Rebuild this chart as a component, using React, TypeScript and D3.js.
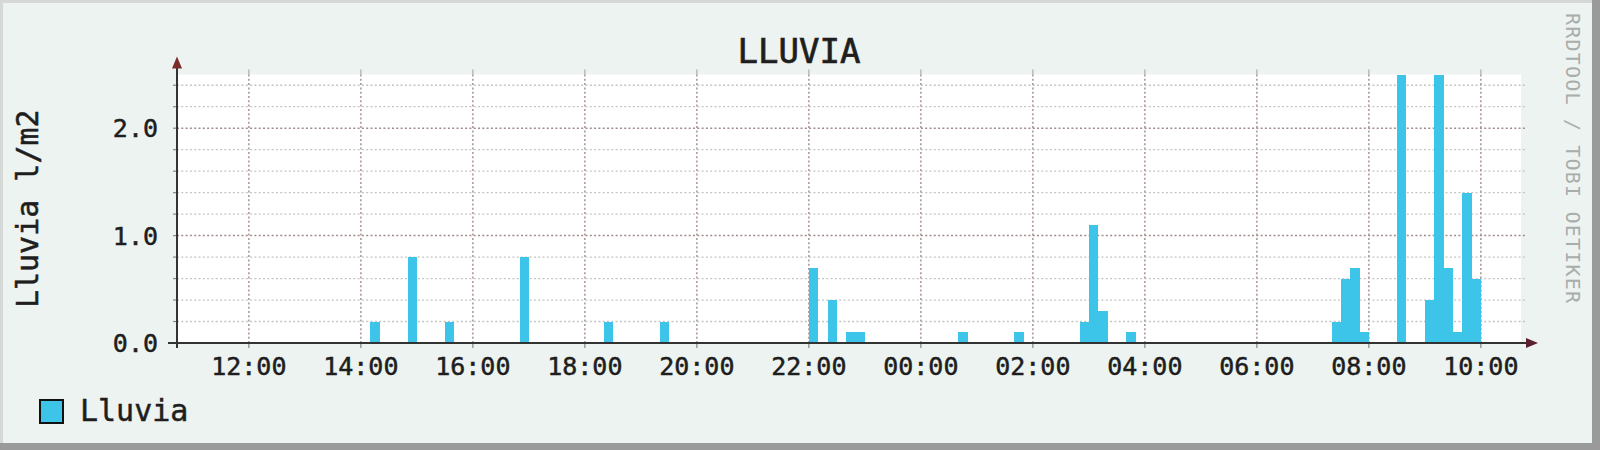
import { useEffect, useRef } from "react"
import * as d3 from "d3"

// time window shown on the x axis (24 h)
const windowStart = "2024-03-10 10:43"
const windowEnd = "2024-03-11 10:43"
const stepMinutes = 10

// start of each 10 minute bucket with rain
const rainTimes = [
  "2024-03-10 14:10", "2024-03-10 14:50", "2024-03-10 15:30", "2024-03-10 16:50",
  "2024-03-10 18:20", "2024-03-10 19:20", "2024-03-10 22:00", "2024-03-10 22:20",
  "2024-03-10 22:40", "2024-03-10 22:50", "2024-03-11 00:40", "2024-03-11 01:40",
  "2024-03-11 02:50", "2024-03-11 03:00", "2024-03-11 03:10", "2024-03-11 03:40",
  "2024-03-11 07:20", "2024-03-11 07:30", "2024-03-11 07:40", "2024-03-11 07:50",
  "2024-03-11 08:30", "2024-03-11 09:00", "2024-03-11 09:10", "2024-03-11 09:20",
  "2024-03-11 09:30", "2024-03-11 09:40", "2024-03-11 09:50",
]
const rainValues = [
  0.2, 0.8, 0.2, 0.8,
  0.2, 0.2, 0.7, 0.4,
  0.1, 0.1, 0.1, 0.1,
  0.2, 1.1, 0.3, 0.1,
  0.2, 0.6, 0.7, 0.1,
  2.5, 0.4, 2.5, 0.7,
  0.1, 1.4, 0.6,
]

const yMax = 2.5
const yLabelTicks = [0, 1, 2]
const title = "LLUVIA"
const yAxisTitle = "Lluvia l/m2"
const legendLabel = "Lluvia"
const watermark = "RRDTOOL / TOBI OETIKER"

const W = 1600
const H = 450
const FONT = "'DejaVu Sans Mono', monospace"
const INK = "#1e1e1e"

export default function App() {
  const svgRef = useRef<SVGSVGElement>(null)

  useEffect(() => {
    if (!svgRef.current) return
    const svg = d3.select(svgRef.current)
    svg.selectAll("*").remove()

    const parse = d3.timeParse("%Y-%m-%d %H:%M")
    const data = rainTimes.map((t, i) => ({ date: parse(t) as Date, value: rainValues[i] }))

    const left = 177
    const right = 1521
    const top = 74.5
    const bottom = 343

    const x = d3.scaleTime().domain([parse(windowStart) as Date, parse(windowEnd) as Date]).range([left, right])
    const y = d3.scaleLinear().domain([0, yMax]).range([bottom, top])

    // frame + canvas
    svg.append("rect").attr("width", W).attr("height", H).attr("fill", "#9a9a9a")
    svg.append("rect").attr("width", W - 8).attr("height", H - 7).attr("fill", "#d6d8d7")
    svg.append("rect").attr("x", 3).attr("y", 3).attr("width", W - 11).attr("height", H - 10).attr("fill", "#edf3f0")

    // plot area
    svg.append("rect")
      .attr("x", left).attr("y", top)
      .attr("width", right - left).attr("height", bottom - top)
      .attr("fill", "#ffffff")

    // minor horizontal grid every 0.2
    const minor = d3.range(1, 13).map((i) => i * 0.2).filter((v) => Math.abs(v - Math.round(v)) > 1e-6)
    svg.append("g").selectAll("line").data(minor).join("line")
      .attr("x1", left).attr("x2", right + 4)
      .attr("y1", (d) => y(d)).attr("y2", (d) => y(d))
      .attr("stroke", "#c4c4c4").attr("stroke-width", 1.3)
      .attr("stroke-dasharray", "2,2.3")

    // major horizontal grid
    svg.append("g").selectAll("line").data([1, 2]).join("line")
      .attr("x1", left).attr("x2", right + 4)
      .attr("y1", (d) => y(d)).attr("y2", (d) => y(d))
      .attr("stroke", "#a08c8c").attr("stroke-width", 1.5)
      .attr("stroke-dasharray", "2,2.3")

    // left tick marks for y grid
    const allY = [...minor, 1, 2]
    svg.append("g").selectAll("line").data(allY).join("line")
      .attr("x1", left - 4).attr("x2", left)
      .attr("y1", (d) => y(d)).attr("y2", (d) => y(d))
      .attr("stroke", "#888").attr("stroke-width", 1.2)

    // vertical major grid every 2h
    const xTicks = x.ticks(d3.timeHour.every(2) as d3.TimeInterval)
    svg.append("g").selectAll("line").data(xTicks).join("line")
      .attr("x1", (d) => x(d)).attr("x2", (d) => x(d))
      .attr("y1", top).attr("y2", bottom)
      .attr("stroke", "#a89292").attr("stroke-width", 1.5)
      .attr("stroke-dasharray", "2,2.3")
    svg.append("g").selectAll("line").data(xTicks).join("line")
      .attr("x1", (d) => x(d)).attr("x2", (d) => x(d))
      .attr("y1", bottom).attr("y2", bottom + 5)
      .attr("stroke", "#888").attr("stroke-width", 1.2)
    svg.append("g").selectAll("line").data(xTicks).join("line")
      .attr("x1", (d) => x(d)).attr("x2", (d) => x(d))
      .attr("y1", top - 5).attr("y2", top)
      .attr("stroke", "#aaa").attr("stroke-width", 1.2)

    // bars
    svg.append("g").selectAll("rect").data(data).join("rect")
      .attr("x", (d) => x(d.date))
      .attr("width", (d) => x(d3.timeMinute.offset(d.date, stepMinutes)) - x(d.date))
      .attr("y", (d) => y(d.value))
      .attr("height", (d) => y(0) - y(d.value))
      .attr("fill", "#3cc4e9")
      .attr("shape-rendering", "crispEdges")

    // axes
    svg.append("line").attr("x1", left - 9).attr("x2", right + 8)
      .attr("y1", bottom).attr("y2", bottom)
      .attr("stroke", "#333").attr("stroke-width", 2)
    svg.append("line").attr("x1", left).attr("x2", left)
      .attr("y1", bottom + 5).attr("y2", top - 8)
      .attr("stroke", "#333").attr("stroke-width", 2)
    // arrows
    svg.append("path")
      .attr("d", `M${left - 5},${top - 6}L${left + 5},${top - 6}L${left},${top - 18}Z`)
      .attr("fill", "#7a2a2a")
    svg.append("path")
      .attr("d", `M${right + 5},${bottom - 5}L${right + 5},${bottom + 5}L${right + 17},${bottom}Z`)
      .attr("fill", "#5a2030")

    const ink = (sel: d3.Selection<any, any, any, any>, w: number) =>
      sel.attr("fill", INK).attr("stroke", INK).attr("stroke-width", w)

    // y tick labels
    ink(svg.append("g").selectAll("text").data(yLabelTicks).join("text")
      .attr("x", 158).attr("y", (d) => y(d))
      .attr("dy", "0.36em")
      .attr("text-anchor", "end")
      .attr("font-family", FONT).attr("font-size", 25)
      .text((d) => d3.format(".1f")(d)), 0.5)

    // x tick labels
    ink(svg.append("g").selectAll("text").data(xTicks).join("text")
      .attr("x", (d) => x(d)).attr("y", 375)
      .attr("text-anchor", "middle")
      .attr("font-family", FONT).attr("font-size", 25)
      .text((d) => d3.timeFormat("%H:%M")(d)), 0.5)

    // title
    ink(svg.append("text")
      .attr("x", 799).attr("y", 63)
      .attr("text-anchor", "middle")
      .attr("font-family", FONT).attr("font-size", 34)
      .text(title), 0.7)

    // y axis title
    ink(svg.append("text")
      .attr("transform", `translate(38,${(top + bottom) / 2}) rotate(-90)`)
      .attr("text-anchor", "middle")
      .attr("font-family", FONT).attr("font-size", 30)
      .text(yAxisTitle), 0.5)

    // watermark
    svg.append("text")
      .attr("transform", `translate(1566,13) rotate(90)`)
      .attr("text-anchor", "start")
      .attr("font-family", FONT).attr("font-size", 20)
      .attr("textLength", 290)
      .attr("fill", "#a9adab")
      .text(watermark)

    // legend
    svg.append("rect")
      .attr("x", 40).attr("y", 400).attr("width", 23).attr("height", 23)
      .attr("fill", "#3cc4e9").attr("stroke", "#111").attr("stroke-width", 2)
    ink(svg.append("text")
      .attr("x", 80).attr("y", 421)
      .attr("font-family", FONT).attr("font-size", 30)
      .text(legendLabel), 0.5)
  }, [])

  return (
    <div style={{ position: "absolute", left: 0, top: 0 }}>
      <svg ref={svgRef} width={W} height={H} style={{ display: "block" }} />
    </div>
  )
}
